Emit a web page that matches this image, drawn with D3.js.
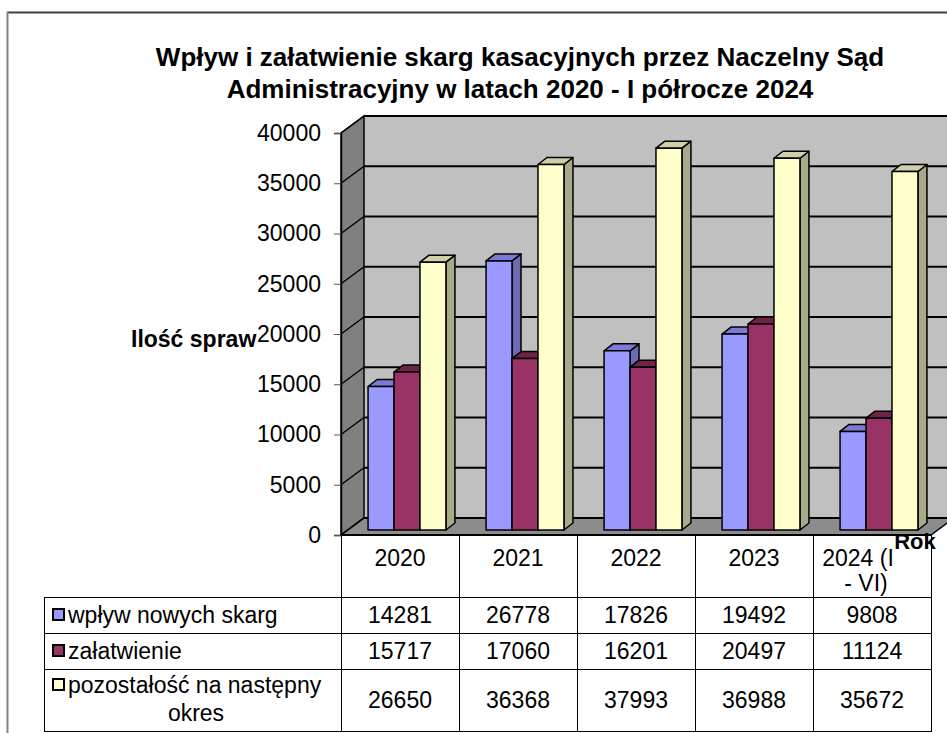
<!DOCTYPE html>
<html>
<head>
<meta charset="utf-8">
<script src="https://cdn.jsdelivr.net/npm/d3@7"></script>
<style>
  body { margin: 0; background: #fff; }
  svg { display: block; font-family: "Liberation Sans", Arial, sans-serif; }
</style>
</head>
<body>
<div id="viz"></div>
<script>
const categories = ["2020", "2021", "2022", "2023", "2024 (I - VI)"];
const categoryLines = [["2020"], ["2021"], ["2022"], ["2023"], ["2024 (I", "- VI)"]];
const seriesNames = ["wpływ nowych skarg", "załatwienie", "pozostałość na następny okres"];
const wplyw = [14281, 26778, 17826, 19492, 9808];
const zalatwienie = [15717, 17060, 16201, 20497, 11124];
const pozostalosc = [26650, 36368, 37993, 36988, 35672];
const yTicks = [0, 5000, 10000, 15000, 20000, 25000, 30000, 35000, 40000];

const seriesValues = [wplyw, zalatwienie, pozostalosc];
const colors = [
  {front: "#9999ff", top: "#7b7bd6", side: "#6b6bb3"},
  {front: "#993366", top: "#6e2349", side: "#6b2447"},
  {front: "#ffffcc", top: "#d0d0a8", side: "#a9a98c"}
];

const W = 947, H = 733;
const left = 341, right = 931, y0 = 535, yTop = 133;
const depth = {dx: 23, dy: -17};
const barD = {x0: 7, y0: -5, x1: 16, y1: -12};
const fs = 23;

const svg = d3.select("#viz").append("svg")
  .attr("width", W).attr("height", H);

// outer frame
svg.append("line").attr("x1", 7).attr("x2", W).attr("y1", 12.5).attr("y2", 12.5)
  .attr("stroke", "#404040").attr("stroke-width", 2);
svg.append("line").attr("x1", 7.5).attr("x2", 7.5).attr("y1", 12).attr("y2", H)
  .attr("stroke", "#808080").attr("stroke-width", 2);

const x0 = d3.scaleBand().domain(categories).range([left, right]);
const x1 = d3.scaleBand().domain(seriesNames)
  .range([x0.bandwidth() * 0.17, x0.bandwidth() * 0.83]);
const y = d3.scaleLinear().domain([0, 40000]).range([y0, yTop]);

const pts = p => p.map(d => d.join(",")).join(" ");

// back wall
svg.append("polygon")
  .attr("points", pts([[left + depth.dx, y(40000) + depth.dy], [right + depth.dx, y(40000) + depth.dy],
    [right + depth.dx, y0 + depth.dy], [left + depth.dx, y0 + depth.dy]]))
  .attr("fill", "#c0c0c0");
// left wall
svg.append("polygon")
  .attr("points", pts([[left, y(40000)], [left + depth.dx, y(40000) + depth.dy],
    [left + depth.dx, y0 + depth.dy], [left, y0]]))
  .attr("fill", "#808080").attr("stroke", "#000").attr("stroke-width", 1.5);
// floor
svg.append("polygon")
  .attr("points", pts([[left, y0], [right, y0], [right + depth.dx, y0 + depth.dy], [left + depth.dx, y0 + depth.dy]]))
  .attr("fill", "#8c8c8c").attr("stroke", "#000").attr("stroke-width", 1.5);

// gridlines
yTicks.forEach(t => {
  svg.append("line")
    .attr("x1", left + depth.dx).attr("x2", right + depth.dx)
    .attr("y1", y(t) + depth.dy).attr("y2", y(t) + depth.dy)
    .attr("stroke", "#000").attr("stroke-width", 2);
  svg.append("line")
    .attr("x1", left).attr("x2", left + depth.dx)
    .attr("y1", y(t)).attr("y2", y(t) + depth.dy)
    .attr("stroke", "#000").attr("stroke-width", 1.5);
});

// y axis
const yAxis = svg.append("g")
  .attr("transform", `translate(${left},0)`)
  .call(d3.axisLeft(y).tickValues(yTicks).tickSize(7).tickPadding(13).tickFormat(d3.format("d")));
yAxis.select(".domain").attr("stroke", "#000").attr("stroke-width", 1.5);
yAxis.selectAll(".tick line").attr("stroke", "#555");
yAxis.selectAll("text").attr("font-size", fs).attr("font-family", "Liberation Sans, Arial, sans-serif")
  .attr("fill", "#000");

// bars
categories.forEach((c, ci) => {
  seriesNames.forEach((s, si) => {
    const v = seriesValues[si][ci];
    const xa = x0(c) + x1(s) + barD.x0;
    const xb = xa + x1.bandwidth();
    const yb = y0 + barD.y0;
    const yt = y(v) + barD.y0;
    const ddx = barD.x1 - barD.x0, ddy = barD.y1 - barD.y0;
    const g = svg.append("g").attr("stroke", "#000").attr("stroke-width", 1.5).attr("stroke-linejoin", "round");
    g.append("polygon").attr("points", pts([[xb, yt], [xb + ddx, yt + ddy], [xb + ddx, yb + ddy], [xb, yb]]))
      .attr("fill", colors[si].side);
    g.append("polygon").attr("points", pts([[xa, yt], [xa + ddx, yt + ddy], [xb + ddx, yt + ddy], [xb, yt]]))
      .attr("fill", colors[si].top);
    g.append("rect").attr("x", xa).attr("y", yt).attr("width", xb - xa).attr("height", yb - yt)
      .attr("fill", colors[si].front);
  });
});

// front floor edge
svg.append("line").attr("x1", left).attr("x2", right).attr("y1", y0).attr("y2", y0)
  .attr("stroke", "#000").attr("stroke-width", 2);

// data table
const tableLeft = 44;
const rowY = [597, 633, 669, 731];
const tbl = svg.append("g").attr("stroke", "#000").attr("stroke-width", 1);
x0.domain().concat([null]).forEach(c => {
  const xx = c === null ? right : x0(c);
  tbl.append("line").attr("x1", xx + 0.5).attr("x2", xx + 0.5).attr("y1", y0).attr("y2", rowY[3]);
});
tbl.append("line").attr("x1", tableLeft + 0.5).attr("x2", tableLeft + 0.5).attr("y1", rowY[0]).attr("y2", rowY[3]);
rowY.forEach(r => {
  tbl.append("line").attr("x1", tableLeft).attr("x2", right + 1).attr("y1", r + 0.5).attr("y2", r + 0.5);
});

// header labels
categories.forEach((c, ci) => {
  const cx = x0(c) + x0.bandwidth() / 2;
  categoryLines[ci].forEach((ln, li) => {
    svg.append("text")
      .attr("x", categoryLines[ci].length > 1 && li === 0 ? cx - 14 : cx - (li > 0 ? 6 : 0))
      .attr("y", 566 + li * 25)
      .attr("text-anchor", "middle")
      .attr("font-size", fs)
      .text(ln);
  });
});

// row labels with legend keys and values
const rowLabelLines = [["wpływ nowych skarg"], ["załatwienie"], ["pozostałość na następny", "okres"]];
seriesNames.forEach((s, si) => {
  const top = rowY[si], bottom = rowY[si + 1];
  const mid = (top + bottom) / 2;
  const lines = rowLabelLines[si];
  const firstY = lines.length > 1 ? mid - 7 : mid + 8;
  svg.append("rect")
    .attr("x", 53).attr("y", firstY - 14).attr("width", 11).attr("height", 11)
    .attr("fill", colors[si].front).attr("stroke", "#000").attr("stroke-width", 2);
  svg.append("text").attr("x", 68).attr("y", firstY).attr("font-size", fs).text(lines[0]);
  if (lines.length > 1) {
    svg.append("text").attr("x", 196).attr("y", firstY + 28).attr("text-anchor", "middle")
      .attr("font-size", fs).text(lines[1]);
  }
  categories.forEach((c, ci) => {
    svg.append("text")
      .attr("x", x0(c) + x0.bandwidth() / 2)
      .attr("y", mid + 8)
      .attr("text-anchor", "middle")
      .attr("font-size", fs)
      .text(seriesValues[si][ci]);
  });
});

// titles
svg.append("text").attr("x", 520).attr("y", 66).attr("text-anchor", "middle")
  .attr("font-size", 26).attr("font-weight", "bold")
  .text("Wpływ i załatwienie skarg kasacyjnych przez Naczelny Sąd");
svg.append("text").attr("x", 520).attr("y", 98).attr("text-anchor", "middle")
  .attr("font-size", 26).attr("font-weight", "bold")
  .text("Administracyjny w latach 2020 - I półrocze 2024");

svg.append("text").attr("x", 131).attr("y", 347)
  .attr("font-size", 23).attr("font-weight", "bold").text("Ilość spraw");

svg.append("text").attr("x", 915).attr("y", 549).attr("text-anchor", "middle")
  .attr("font-size", 22).attr("font-weight", "bold").text("Rok");
</script>
</body>
</html>
